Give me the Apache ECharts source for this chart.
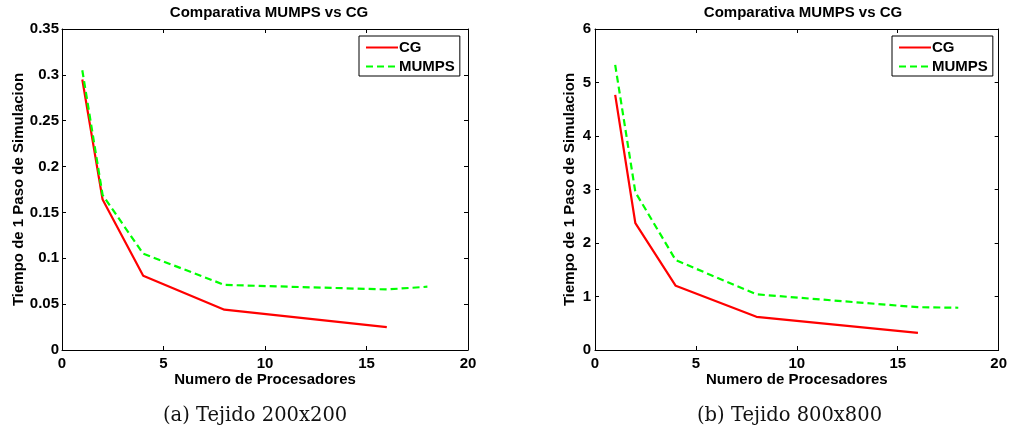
<!DOCTYPE html>
<html><head><meta charset="utf-8">
<script src="https://cdn.jsdelivr.net/npm/echarts@6/dist/echarts.min.js"></script>
<style>html,body{margin:0;padding:0;background:#fff}#c{width:1010px;height:435px}</style>
</head><body><div id="c"></div>
<script>
const procsCG = [1, 2, 4, 8, 16];
const procsMUMPS = [1, 2, 4, 8, 16, 18];
const cg200 = [0.295, 0.164, 0.081, 0.044, 0.025];
const mumps200 = [0.305, 0.169, 0.105, 0.071, 0.066, 0.069];
const cg800 = [4.77, 2.37, 1.20, 0.62, 0.32];
const mumps800 = [5.33, 2.95, 1.68, 1.04, 0.80, 0.79];
const titleText = 'Comparativa MUMPS vs CG';
const xName = 'Numero de Procesadores';
const yName = 'Tiempo de 1 Paso de Simulacion';
const captions = ['(a) Tejido 200x200', '(b) Tejido 800x800'];

const F = 'Liberation Sans, Arial, sans-serif';
const pairs = (xs, ys) => xs.map((x, i) => [x, ys[i]]);
const chart = echarts.init(document.getElementById('c'), null, {renderer: 'canvas'});

function xAx(grid, pos, show) {
  return {type: 'value', gridIndex: grid, position: pos, min: 0, max: 20, interval: 5,
    axisLine: {show: true, onZero: false, lineStyle: {color: '#000', width: 1}},
    axisTick: {show: true, inside: true, length: 4, lineStyle: {color: '#000'}},
    axisLabel: {show: show, color: '#000', fontFamily: F, fontWeight: 'bold', fontSize: 15, margin: 6},
    splitLine: {show: false},
    name: show ? xName : '', nameLocation: 'middle', nameGap: 22, nameMoveOverlap: false,
    nameTextStyle: {color: '#000', fontFamily: F, fontWeight: 'bold', fontSize: 15}};
}
function yAx(grid, pos, show, max, interval, gap, margin) {
  return {type: 'value', gridIndex: grid, position: pos, min: 0, max: max, interval: interval,
    axisLine: {show: true, onZero: false, lineStyle: {color: '#000', width: 1}},
    axisTick: {show: true, inside: true, length: 4, lineStyle: {color: '#000'}},
    axisLabel: {show: show, color: '#000', fontFamily: F, fontWeight: 'bold', fontSize: 15, margin: margin},
    splitLine: {show: false},
    name: show ? yName : '', nameLocation: 'middle', nameGap: gap,
    nameTextStyle: {color: '#000', fontFamily: F, fontWeight: 'bold', fontSize: 15}};
}
function legend(left) {
  return {left: left, top: 36, orient: 'vertical', data: ['CG', 'MUMPS'],
    borderColor: '#000', borderWidth: 1, padding: [4, 5, 2, 6], itemGap: 4,
    itemWidth: 32, itemHeight: 14, backgroundColor: '#fff',
    itemStyle: {opacity: 0},
    textStyle: {color: '#000', fontFamily: F, fontWeight: 'bold', fontSize: 15, padding: [0, 0, 0, -4]}};
}
const red = {color: '#ff0000', width: 2.2};
const green = {color: '#00ff00', width: 2.2, type: [7, 4]};

chart.setOption({
  animation: false,
  title: [
    {text: titleText, left: 264, top: 0, textAlign: 'center', textStyle: {fontFamily: F, fontWeight: 'bold', fontSize: 15, color: '#000'}},
    {text: titleText, left: 798, top: 0, textAlign: 'center', textStyle: {fontFamily: F, fontWeight: 'bold', fontSize: 15, color: '#000'}}
  ],
  legend: [legend(359), legend(892)],
  grid: [
    {left: 62, right: 542, top: 29, bottom: 85},
    {left: 595, right: 9, top: 29, bottom: 85}
  ],
  xAxis: [xAx(0, 'bottom', true), xAx(0, 'top', false), xAx(1, 'bottom', true), xAx(1, 'top', false)],
  yAxis: [yAx(0, 'left', true, 0.35, 0.05, 36, 3), yAx(0, 'right', false, 0.35, 0.05, 0, 3),
          yAx(1, 'left', true, 6, 1, 18, 4), yAx(1, 'right', false, 6, 1, 0, 4)],
  series: [
    {name: 'CG', type: 'line', xAxisIndex: 0, yAxisIndex: 0, symbol: 'none', data: pairs(procsCG, cg200), lineStyle: red, itemStyle: {color: '#ff0000'}},
    {name: 'MUMPS', type: 'line', xAxisIndex: 0, yAxisIndex: 0, symbol: 'none', data: pairs(procsMUMPS, mumps200), lineStyle: green, itemStyle: {color: '#00ff00'}},
    {name: 'CG', type: 'line', xAxisIndex: 2, yAxisIndex: 2, symbol: 'none', data: pairs(procsCG, cg800), lineStyle: red, itemStyle: {color: '#ff0000'}},
    {name: 'MUMPS', type: 'line', xAxisIndex: 2, yAxisIndex: 2, symbol: 'none', data: pairs(procsMUMPS, mumps800), lineStyle: green, itemStyle: {color: '#00ff00'}}
  ],
  graphic: [
    {type: 'text', left: 163, top: 406, style: {text: captions[0], fontFamily: 'DejaVu Serif', fontSize: 19.5, fill: '#111'}},
    {type: 'text', left: 697, top: 406, style: {text: captions[1], fontFamily: 'DejaVu Serif', fontSize: 19.5, fill: '#111'}}
  ]
});
</script></body></html>
